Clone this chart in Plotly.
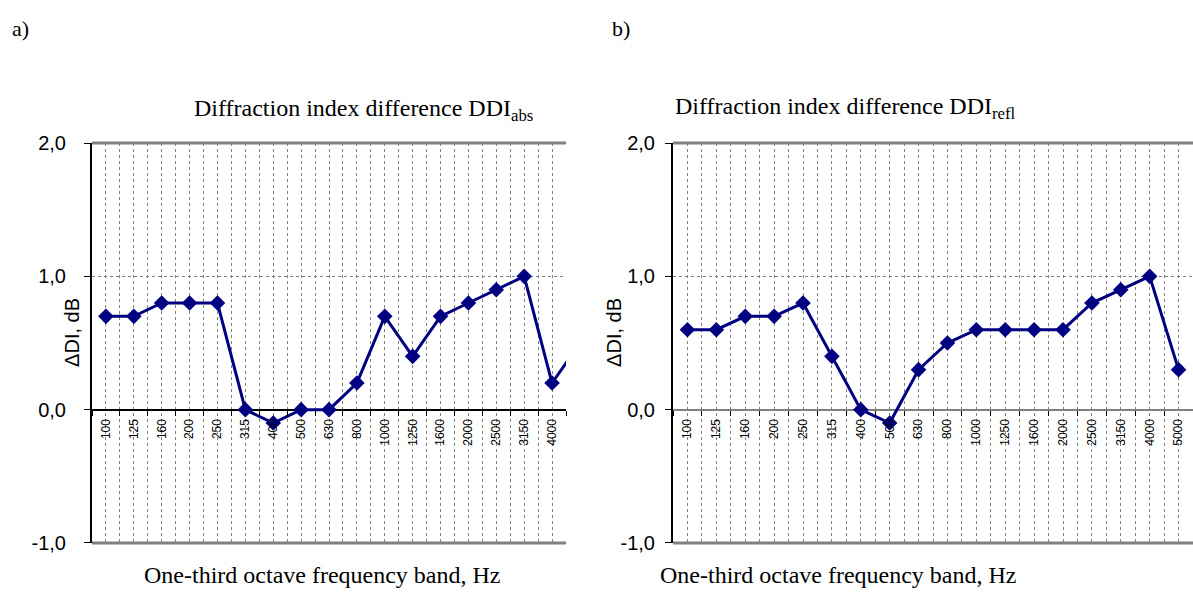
import plotly.graph_objects as go

# ---- data ----
bands_a = ["100", "125", "160", "200", "250", "315", "400", "500", "630", "800",
           "1000", "1250", "1600", "2000", "2500", "3150", "4000", "5000"]
ddi_abs = [0.7, 0.7, 0.8, 0.8, 0.8, 0.0, -0.1, 0.0, 0.0, 0.2,
           0.7, 0.4, 0.7, 0.8, 0.9, 1.0, 0.2, 0.5]
visible_a = 17  # the left panel shows bands up to 4000 Hz

bands_b = ["100", "125", "160", "200", "250", "315", "400", "500", "630", "800",
           "1000", "1250", "1600", "2000", "2500", "3150", "4000", "5000"]
ddi_refl = [0.6, 0.6, 0.7, 0.7, 0.8, 0.4, 0.0, -0.1, 0.3, 0.5,
            0.6, 0.6, 0.6, 0.6, 0.8, 0.9, 1.0, 0.3]

y_ticks = [-1, 0, 1, 2]
y_ticktext = ["-1,0", "0,0", "1,0", "2,0"]

# ---- layout geometry ----
W, H = 1193, 607
yd = [1 - 552 / H, 1 - 137 / H]
xd_a = [92 / W, 566 / W]
xd_b = [673 / W, 1.0]
y_min, y_max = -1, 2
y0_pos = yd[0] + (yd[1] - yd[0]) * (0 - y_min) / (y_max - y_min)

NAVY = "#000080"
GRID = "#808080"
SANS = "Liberation Sans, Arial, sans-serif"
SERIF = "Liberation Serif, Times New Roman, serif"

fig = go.Figure()
fig.add_trace(go.Scatter(x=list(range(len(bands_a))), y=ddi_abs, mode="lines+markers",
                         line=dict(color=NAVY, width=3),
                         marker=dict(symbol="diamond", size=12, color=NAVY),
                         xaxis="x", yaxis="y", showlegend=False))
fig.add_trace(go.Scatter(x=list(range(len(bands_b))), y=ddi_refl, mode="lines+markers",
                         line=dict(color=NAVY, width=3),
                         marker=dict(symbol="diamond", size=12, color=NAVY),
                         xaxis="x2", yaxis="y2", showlegend=False))


def xaxis_cfg(n_vis, labels, domain):
    centers = list(range(n_vis))
    bounds = [i - 0.5 for i in range(n_vis + 1)]
    return dict(
        domain=domain, range=[-0.5, n_vis - 0.5], type="linear",
        anchor="free", position=y0_pos,
        tickmode="array", tickvals=centers, ticktext=labels[:n_vis],
        tickangle=-90, tickfont=dict(family=SANS, size=12, color="black"),
        ticks="", ticklabelstandoff=6,
        showgrid=True, gridcolor=GRID, griddash="dot", gridwidth=1,
        showline=False, zeroline=False,
        minor=dict(tickmode="array", tickvals=bounds, ticks="outside", ticklen=5,
                   tickcolor="black", tickwidth=1, showgrid=True, gridcolor=GRID,
                   griddash="dot", gridwidth=1),
        fixedrange=True,
    )


def yaxis_cfg(anchor_x, zero_color, standoff):
    return dict(
        domain=yd, range=[y_min, y_max], anchor=anchor_x,
        tickmode="array", tickvals=y_ticks, ticktext=y_ticktext,
        tickfont=dict(family=SANS, size=20, color="black"),
        ticks="outside", ticklen=6, tickcolor="black", tickwidth=1,
        ticklabelstandoff=standoff,
        showline=True, linecolor="black", linewidth=2,
        showgrid=True, gridcolor=GRID, griddash="dot", gridwidth=1,
        zeroline=True, zerolinecolor=zero_color, zerolinewidth=2,
        fixedrange=True,
    )


shapes = []
for xr, yr in (("x domain", "y domain"), ("x2 domain", "y2 domain")):
    for yy in (0, 1):
        shapes.append(dict(type="line", xref=xr, yref=yr, x0=0, x1=1, y0=yy, y1=yy,
                           line=dict(color=GRID, width=3), layer="above"))

annotations = [
    dict(text="a)", x=10 / W, y=1 - 18 / H, xanchor="left", yanchor="middle", size=22),
    dict(text="b)", x=610 / W, y=1 - 18 / H, xanchor="left", yanchor="middle", size=22),
    dict(text="Diffraction index difference DDI<sub>abs</sub>", x=363 / W, y=1 - 103 / H,
         xanchor="center", yanchor="middle", size=24),
    dict(text="Diffraction index difference DDI<sub>refl</sub>", x=845 / W, y=1 - 101 / H,
         xanchor="center", yanchor="middle", size=24),
    dict(text="One-third octave frequency band, Hz", x=322 / W, y=1 - 585 / H,
         xanchor="center", yanchor="middle", size=24),
    dict(text="One-third octave frequency band, Hz", x=838 / W, y=1 - 585 / H,
         xanchor="center", yanchor="middle", size=24),
]
for a in annotations:
    sz = a.pop("size")
    a.update(xref="paper", yref="paper", showarrow=False,
             font=dict(family=SERIF, size=sz, color="black"))

for txt, xc in (("ΔDI, dB", 72), ("ΔDI, dB", 614)):
    annotations.append(dict(text=txt, x=xc / W, y=1 - 334 / H, xref="paper", yref="paper",
                            showarrow=False, textangle=-90, xanchor="center", yanchor="middle",
                            font=dict(family=SANS, size=20, color="black")))

fig.update_layout(
    width=W, height=H, autosize=False,
    margin=dict(l=0, r=0, t=0, b=0),
    paper_bgcolor="white", plot_bgcolor="white",
    xaxis=xaxis_cfg(visible_a, bands_a, xd_a),
    xaxis2=xaxis_cfg(len(bands_b), bands_b, xd_b),
    yaxis=yaxis_cfg("x", "black", 14),
    yaxis2=yaxis_cfg("x2", "#808080", 6),
    shapes=shapes, annotations=annotations,
)

fig.write_html("out.html", config={"displayModeBar": False},
               post_script="document.body.style.margin='0';document.body.style.overflow='hidden';")
